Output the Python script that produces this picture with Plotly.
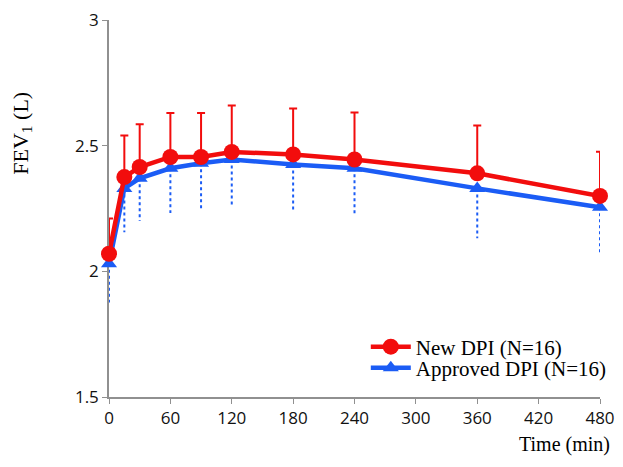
import plotly.graph_objects as go

time_min = [0, 15, 30, 60, 90, 120, 180, 240, 360, 480]
new_dpi_mean = [2.07, 2.375, 2.415, 2.455, 2.455, 2.475, 2.465, 2.445, 2.39, 2.30]
new_dpi_err = [0.14, 0.165, 0.17, 0.175, 0.175, 0.185, 0.183, 0.187, 0.19, 0.176]
approved_dpi_mean = [2.03, 2.33, 2.37, 2.41, 2.43, 2.445, 2.425, 2.41, 2.33, 2.255]
approved_dpi_err = [0.154, 0.174, 0.17, 0.178, 0.182, 0.189, 0.189, 0.186, 0.198, 0.183]
x_ticks = [0, 60, 120, 180, 240, 300, 360, 420, 480]
y_ticks = [1.5, 2, 2.5, 3]

RED = "#f20d0d"
BLUE = "#1b5cf5"

# dotted downward error bars for approved DPI
ex, ey = [], []
for t, m, e in zip(time_min, approved_dpi_mean, approved_dpi_err):
    ex += [t, t, None]
    ey += [m, m - e, None]

fig = go.Figure()
fig.add_trace(go.Scatter(x=ex, y=ey, mode="lines", showlegend=False, hoverinfo="skip",
                         cliponaxis=False,
                         line=dict(color=BLUE, width=2, dash="dot")))
fig.add_trace(go.Scatter(
    x=time_min, y=approved_dpi_mean, mode="lines+markers", name="Approved DPI (N=16)",
    legend="legend2", cliponaxis=False,
    line=dict(color=BLUE, width=4.5),
    marker=dict(symbol="triangle-up", size=14, color=BLUE),
))
fig.add_trace(go.Scatter(
    x=time_min, y=new_dpi_mean, mode="lines+markers", name="New DPI (N=16)",
    legend="legend", cliponaxis=False,
    line=dict(color=RED, width=4.5),
    marker=dict(symbol="circle", size=16, color=RED),
    error_y=dict(type="data", symmetric=False, array=new_dpi_err,
                 arrayminus=[0] * len(new_dpi_err), color=RED, thickness=2, width=4),
))

leg_font = dict(family="Liberation Serif", size=21, color="black")
fig.update_layout(
    width=607, height=451,
    margin=dict(l=101, r=15, t=12, b=62, autoexpand=False),
    paper_bgcolor="white", plot_bgcolor="white",
    font=dict(family="Open Sans", size=17, color="#111111"),
    legend=dict(x=0.523, y=0.1326, xanchor="left", yanchor="middle", font=leg_font,
                itemwidth=40, bgcolor="rgba(0,0,0,0)"),
    legend2=dict(x=0.523, y=0.0769, xanchor="left", yanchor="middle", font=leg_font,
                 itemwidth=40, bgcolor="rgba(0,0,0,0)"),
    xaxis=dict(range=[0, 480], tickvals=x_ticks, showgrid=False, zeroline=False,
               showline=True, linecolor="#909090", linewidth=1.5,
               ticks="outside", ticklen=5, tickcolor="#909090", layer="below traces",
               automargin=False, ticklabeloverflow="allow"),
    yaxis=dict(range=[1.5, 3], tickvals=y_ticks, showgrid=False, zeroline=False,
               showline=True, linecolor="#909090", linewidth=1.5,
               ticks="outside", ticklen=5, tickcolor="#909090", layer="below traces",
               automargin=False, ticklabeloverflow="allow"),
    annotations=[
        dict(text="Time (min)", x=1.024, y=-0.1618, xref="paper", yref="paper",
             xanchor="right", yanchor="bottom", showarrow=False,
             font=dict(family="Liberation Serif", size=20, color="black")),
        dict(text="FEV<sub>1</sub> (L)", x=-0.178, y=0.70, xref="paper", yref="paper",
             xanchor="center", yanchor="middle", textangle=-90, showarrow=False,
             font=dict(family="Liberation Serif", size=22, color="black")),
    ],
)

fig.write_html("out.html")
